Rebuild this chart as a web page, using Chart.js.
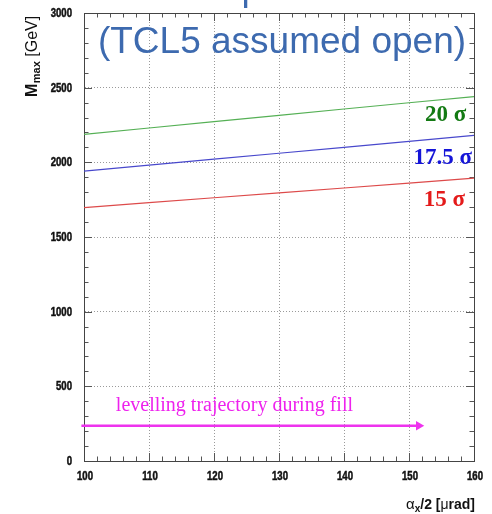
<!DOCTYPE html>
<html>
<head>
<meta charset="utf-8">
<script src="https://cdn.jsdelivr.net/npm/chart.js@4/dist/chart.umd.min.js"></script>
<style>
html,body{margin:0;padding:0;background:#fff;}
#wrap{position:relative;width:492px;height:514px;}
</style>
</head>
<body>
<div id="wrap"><canvas id="c" width="492" height="514"></canvas></div>
<script>
// ---- data ----
const crossingHalfAngle = [100, 110, 120, 130, 140, 150, 160];   // alpha_x/2 [urad]
const mmax20 = [2187, 2230, 2272, 2315, 2357, 2399, 2440];       // 20 sigma
const mmax175 = [1941, 1981, 2021, 2061, 2100, 2140, 2180];      // 17.5 sigma
const mmax15 = [1697, 1730, 1763, 1796, 1828, 1861, 1894];       // 15 sigma
const levellingX = [99.6, 151.5];
const levellingY = [236, 236];
const seriesNames = ['20 σ', '17.5 σ', '15 σ'];
const xTickValues = [100, 110, 120, 130, 140, 150, 160];
const yTickValues = [0, 500, 1000, 1500, 2000, 2500, 3000];
const titleText = '(TCL5 assumed open)';
const trajectoryText = 'levelling trajectory during fill';

const X_MIN = 100, X_MAX = 160, Y_MIN = 0, Y_MAX = 3000;
const TICK_FONT = "bold 12px 'Liberation Sans', Arial, sans-serif";
const NARROW = 0.8;

function pts(xs, ys){ return xs.map((x,i)=>({x:x, y:ys[i]})); }

function narrowText(ctx, text, x, y, align){
  ctx.save();
  ctx.font = TICK_FONT;
  const w = ctx.measureText(text).width * NARROW;
  let left = x;
  if (align === 'right') left = x - w;
  else if (align === 'center') left = x - w/2;
  ctx.translate(left, y);
  ctx.scale(NARROW, 1);
  ctx.textAlign = 'left';
  ctx.textBaseline = 'alphabetic';
  ctx.lineWidth = 0.5;
  ctx.strokeStyle = ctx.fillStyle;
  ctx.fillText(text, 0, 0);
  ctx.strokeText(text, 0, 0);
  ctx.restore();
}

const overlay = {
  id: 'overlay',
  beforeDatasetsDraw(chart){
    const ctx = chart.ctx, xs = chart.scales.x, ys = chart.scales.y;
    const a = chart.chartArea;
    ctx.save();
    ctx.strokeStyle = '#555';
    ctx.lineWidth = 1;
    // minor & major ticks, inward, on all four sides
    for (let v = X_MIN; v <= X_MAX; v += 2) {
      const px = Math.round(xs.getPixelForValue(v)) + 0.5;
      const len = (v % 10 === 0) ? 8 : 4.5;
      ctx.beginPath();
      ctx.moveTo(px, a.bottom); ctx.lineTo(px, a.bottom - len);
      ctx.moveTo(px, a.top); ctx.lineTo(px, a.top + len);
      ctx.stroke();
    }
    for (let v = Y_MIN; v <= Y_MAX; v += 100) {
      const py = Math.round(ys.getPixelForValue(v)) + 0.5;
      const len = (v % 500 === 0) ? 8 : 4.5;
      ctx.beginPath();
      ctx.moveTo(a.left, py); ctx.lineTo(a.left + len, py);
      ctx.moveTo(a.right, py); ctx.lineTo(a.right - len, py);
      ctx.stroke();
    }
    // frame
    ctx.strokeStyle = '#444';
    ctx.strokeRect(Math.round(a.left)+0.5, Math.round(a.top)+0.5, Math.round(a.right-a.left), Math.round(a.bottom-a.top));
    ctx.restore();

    // tick labels (narrow bold), positioned by the scales
    ctx.save();
    ctx.fillStyle = '#111';
    xs.ticks.forEach(t => narrowText(ctx, String(t.value), xs.getPixelForValue(t.value) + 1, a.bottom + 19.3, 'center'));
    ys.ticks.forEach(t => narrowText(ctx, String(t.value), a.left - 12, ys.getPixelForValue(t.value) + 4, 'right'));
    ctx.restore();
  },
  afterDraw(chart){
    const ctx = chart.ctx, xs = chart.scales.x, ys = chart.scales.y;
    ctx.save();
    // sigma labels
    const labelCfg = [
      {x: 158.8, y: 2314, color: '#137a13'},
      {x: 159.7, y: 2026, color: '#1515d8'},
      {x: 158.6, y: 1745, color: '#e41a1a'}
    ];
    ctx.font = "bold 23px 'Liberation Serif', 'Times New Roman', serif";
    ctx.textAlign = 'right';
    ctx.textBaseline = 'middle';
    seriesNames.forEach((t, i) => {
      const c = labelCfg[i];
      ctx.fillStyle = c.color;
      ctx.fillText(t, xs.getPixelForValue(c.x), ys.getPixelForValue(c.y));
    });
    // trajectory text
    ctx.font = "20px 'Liberation Serif', 'Times New Roman', serif";
    ctx.fillStyle = '#ee22ee';
    ctx.textAlign = 'left';
    ctx.textBaseline = 'alphabetic';
    ctx.fillText(trajectoryText, xs.getPixelForValue(104.9), ys.getPixelForValue(332));

    // title (overlaps plot)
    ctx.font = "37px 'Liberation Sans', Arial, sans-serif";
    ctx.fillStyle = '#3d6aaf';
    ctx.textAlign = 'center';
    ctx.fillText(titleText, 282, 53);
    // fragment of a line above (only descender visible)
    ctx.textAlign = 'left';
    ctx.fillText('p', 241.6, 0);

    // y axis title: M_max [GeV]
    ctx.save();
    ctx.translate(37, 97);
    ctx.rotate(-Math.PI/2);
    ctx.fillStyle = '#111';
    ctx.textAlign = 'left';
    ctx.textBaseline = 'alphabetic';
    ctx.font = "bold 16px 'Liberation Sans', Arial, sans-serif";
    let w = 0;
    ctx.fillText('M', w, 0); w += ctx.measureText('M').width + 0.5;
    ctx.font = "bold 11px 'Liberation Sans', Arial, sans-serif";
    ctx.fillText('max', w, 3); w += ctx.measureText('max').width;
    ctx.font = "16px 'Liberation Sans', Arial, sans-serif";
    ctx.fillText(' [GeV]', w, 0);
    ctx.restore();

    // x axis title: alpha_x/2 [urad]
    const parts = [
      {t: 'α', f: "15px 'Liberation Sans', Arial, sans-serif", dy: 0},
      {t: 'x', f: "bold 10px 'Liberation Sans', Arial, sans-serif", dy: 3},
      {t: '/2 [', f: "bold 14px 'Liberation Sans', Arial, sans-serif", dy: 0},
      {t: 'μ', f: "14px 'Liberation Sans', Arial, sans-serif", dy: 0},
      {t: 'rad]', f: "bold 14px 'Liberation Sans', Arial, sans-serif", dy: 0}
    ];
    let total = 0;
    parts.forEach(p => { ctx.font = p.f; p.w = ctx.measureText(p.t).width; total += p.w; });
    let x0 = 475 - total;
    ctx.fillStyle = '#111';
    ctx.textAlign = 'left';
    parts.forEach(p => { ctx.font = p.f; ctx.fillText(p.t, x0, 509 + p.dy); x0 += p.w; });
    ctx.restore();
  }
};

const gridColor = (c) => (c.tick && (c.tick.value === c.scale.min || c.tick.value === c.scale.max)) ? 'rgba(0,0,0,0)' : '#9a9a9a';

new Chart(document.getElementById('c'), {
  type: 'line',
  data: {
    datasets: [
      {label: seriesNames[0], data: pts(crossingHalfAngle, mmax20), borderColor: '#55b055', borderWidth: 1.2, pointRadius: 0, tension: 0},
      {label: seriesNames[1], data: pts(crossingHalfAngle, mmax175), borderColor: '#4848cc', borderWidth: 1.2, pointRadius: 0, tension: 0},
      {label: seriesNames[2], data: pts(crossingHalfAngle, mmax15), borderColor: '#dd4a4a', borderWidth: 1.2, pointRadius: 0, tension: 0},
      {label: 'levelling', data: pts(levellingX, levellingY), borderColor: '#ee33ee', backgroundColor: '#ee33ee',
        borderWidth: 2.6, pointRadius: [0, 5.5], pointStyle: 'triangle', rotation: 90, pointBorderWidth: 0, clip: false}
    ]
  },
  options: {
    responsive: false,
    animation: false,
    events: [],
    layout: {padding: {top: 13, right: 18, left: 0, bottom: 0}},
    plugins: {legend: {display: false}, tooltip: {enabled: false}, title: {display: false}},
    scales: {
      x: {
        type: 'linear', min: X_MIN, max: X_MAX,
        afterFit: s => { s.height = 53; s.paddingLeft = 0; s.paddingRight = 0; },
        afterBuildTicks: s => { s.ticks = xTickValues.map(v => ({value: v})); },
        ticks: {display: false},
        grid: {color: gridColor, lineWidth: 1, drawTicks: false, borderDash: [1, 2]},
        border: {display: true, color: '#444', dash: [1, 2]}
      },
      y: {
        type: 'linear', min: Y_MIN, max: Y_MAX,
        afterFit: s => { s.width = 84; s.paddingTop = 0; s.paddingBottom = 0; },
        afterBuildTicks: s => { s.ticks = yTickValues.map(v => ({value: v})); },
        ticks: {display: false},
        grid: {color: gridColor, lineWidth: 1, drawTicks: false, borderDash: [1, 2]},
        border: {display: true, color: '#444', dash: [1, 2]}
      }
    }
  },
  plugins: [overlay]
});
</script>
</body>
</html>
